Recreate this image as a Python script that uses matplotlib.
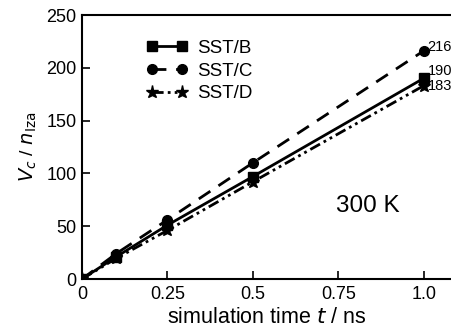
import matplotlib
matplotlib.use("Agg")
import matplotlib.pyplot as plt

plt.rcParams['font.family'] = ['Liberation Sans', 'DejaVu Sans']

t = [0, 0.1, 0.25, 0.5, 1.0]
sst_b = [0, 21, 51, 97, 190]
sst_c = [0, 24, 56, 110, 216]
sst_d = [0, 19.5, 46, 92, 183]
end_labels = ["190", "216", "183"]

fig = plt.figure(figsize=(4.52, 3.29), dpi=100)
ax = fig.add_axes([82/452, 50/329, 370/452, 264/329])

ax.plot(t, sst_b, '-', color='black', lw=2, marker='s', ms=7, label='SST/B')
ax.plot(t, sst_c, color='black', lw=2, dashes=(5, 3.5), marker='o', ms=7, label='SST/C')
ax.plot(t, sst_d, color='black', lw=2, dashes=(4, 1.5, 1, 1.5, 1, 1.5), marker='*', ms=9.5, label='SST/D')

ax.set_xlim(0, 1.083)
ax.set_ylim(0, 250)
ax.set_xticks([0, 0.25, 0.5, 0.75, 1.0])
ax.set_xticklabels(['0', '0.25', '0.5', '0.75', '1.0'])
ax.set_yticks([0, 50, 100, 150, 200, 250])
ax.tick_params(direction='in', length=5.5, width=1.2, labelsize=13)
ax.tick_params(axis='x', pad=5)
ax.tick_params(axis='y', pad=4)
for s in ['left', 'bottom', 'top']:
    ax.spines[s].set_linewidth(1.5)
ax.spines['right'].set_visible(False)

ax.set_xlabel('simulation time $t$ / ns', fontsize=15.5, labelpad=3)
ax.set_ylabel('$V_c$ / $n_{\\mathrm{Iza}}$', fontsize=14, labelpad=5)

ax.text(1.012, sst_c[-1] + 4, end_labels[1], fontsize=10.5, ha='left', va='center')
ax.text(1.012, sst_b[-1] + 7, end_labels[0], fontsize=10.5, ha='left', va='center')
ax.text(1.012, sst_d[-1], end_labels[2], fontsize=10.5, ha='left', va='center')

ax.text(0.837, 69, '300 K', fontsize=17.5, ha='center', va='center')

leg = ax.legend(loc='upper left', bbox_to_anchor=(0.155, 0.935), frameon=False,
                fontsize=13.5, handlelength=2.2, handletextpad=0.5, labelspacing=0.3,
                numpoints=2, borderaxespad=0)

fig.savefig('out.png', dpi=100)
